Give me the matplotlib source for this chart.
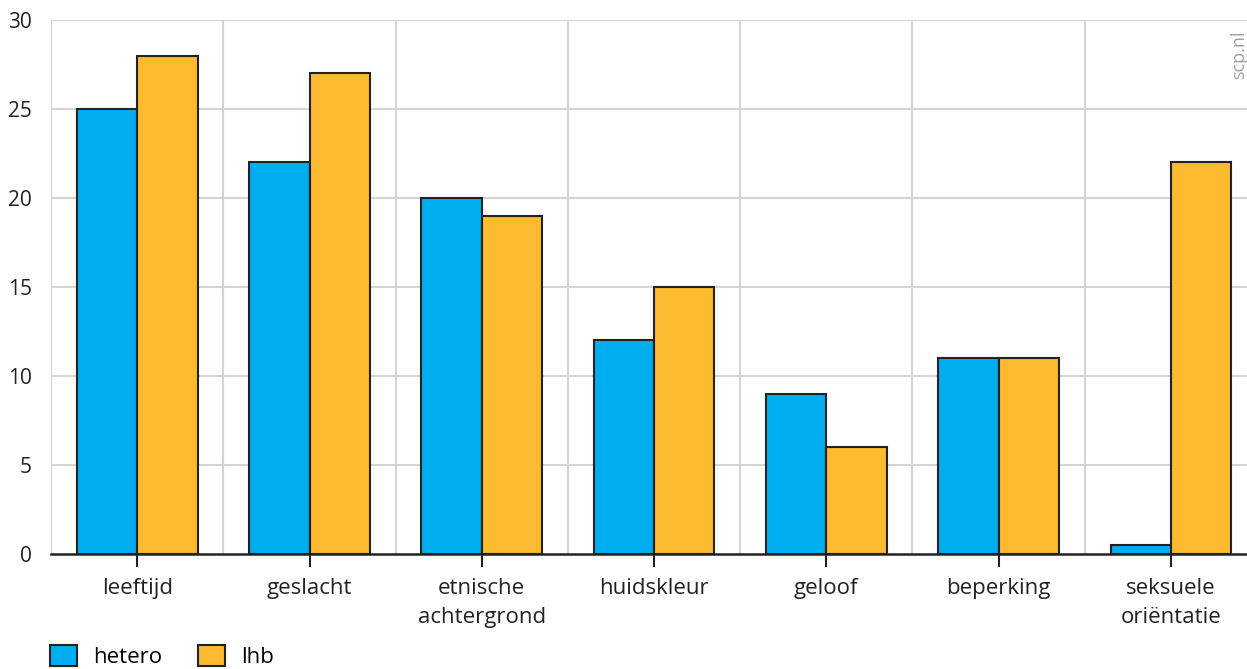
#!/usr/bin/env python3
"""Grouped bar chart: ervaren discriminatie, hetero vs lhb (scp.nl)."""

import matplotlib

matplotlib.use("Agg")
import matplotlib.pyplot as plt
import numpy as np
from matplotlib.patches import Patch

categories = ["leeftijd", "geslacht", "etnische\nachtergrond", "huidskleur",
              "geloof", "beperking", "seksuele\noriëntatie"]
hetero = [25, 22, 20, 12, 9, 11, 0.5]
lhb = [28, 27, 19, 15, 6, 11, 22]
y_ticks = [0, 5, 10, 15, 20, 25, 30]

BLUE = "#00AEEF"
ORANGE = "#FBBA2F"
EDGE = "#222222"
GRID = "#d4d4d4"

plt.rcParams["font.family"] = ["Open Sans", "DejaVu Sans"]

fig = plt.figure(figsize=(12.47, 6.69), dpi=100)
ax = fig.add_axes([0.041, 0.172, 0.967, 0.798])

x = np.arange(len(categories))
w = 0.35
ax.bar(x - w / 2, hetero, w, color=BLUE, edgecolor=EDGE, linewidth=1.5, zorder=3)
ax.bar(x + w / 2, lhb, w, color=ORANGE, edgecolor=EDGE, linewidth=1.5, zorder=3)

ax.set_xlim(-0.5, len(categories) - 0.5)
ax.set_ylim(0, 30)
ax.set_yticks(y_ticks)
ax.set_yticklabels([str(v) for v in y_ticks], fontsize=15, color="#222222")
ax.set_xticks(x)
ax.set_xticklabels(categories, fontsize=16, color="#222222", linespacing=1.55)
ax.tick_params(axis="y", length=0, pad=14)
ax.tick_params(axis="x", length=9, width=1.5, color=EDGE, pad=8)

for v in y_ticks[1:]:
    ax.axhline(v, color=GRID, linewidth=1.5, zorder=1)
for b in np.arange(-0.5, len(categories), 1.0):
    ax.axvline(b, color=GRID, linewidth=1.5, zorder=1)

for s in ["top", "right", "left"]:
    ax.spines[s].set_visible(False)
ax.spines["bottom"].set_color(EDGE)
ax.spines["bottom"].set_linewidth(1.8)
ax.spines["bottom"].set_zorder(4)

fig.text(0.9935, 0.955, "scp.nl", rotation=90, ha="center", va="top",
         fontsize=13, color="#a0a0a0")

handles = [Patch(facecolor=BLUE, edgecolor=EDGE, linewidth=1.5, label="hetero"),
           Patch(facecolor=ORANGE, edgecolor=EDGE, linewidth=1.5, label="lhb")]
fig.legend(handles=handles, loc="upper left", bbox_to_anchor=(0.04, 0.036),
           ncol=2, frameon=False, fontsize=16, handlelength=1.2, handleheight=1.1,
           columnspacing=1.6, handletextpad=0.75, borderaxespad=0, borderpad=0)

fig.savefig("out.png", dpi=100)
